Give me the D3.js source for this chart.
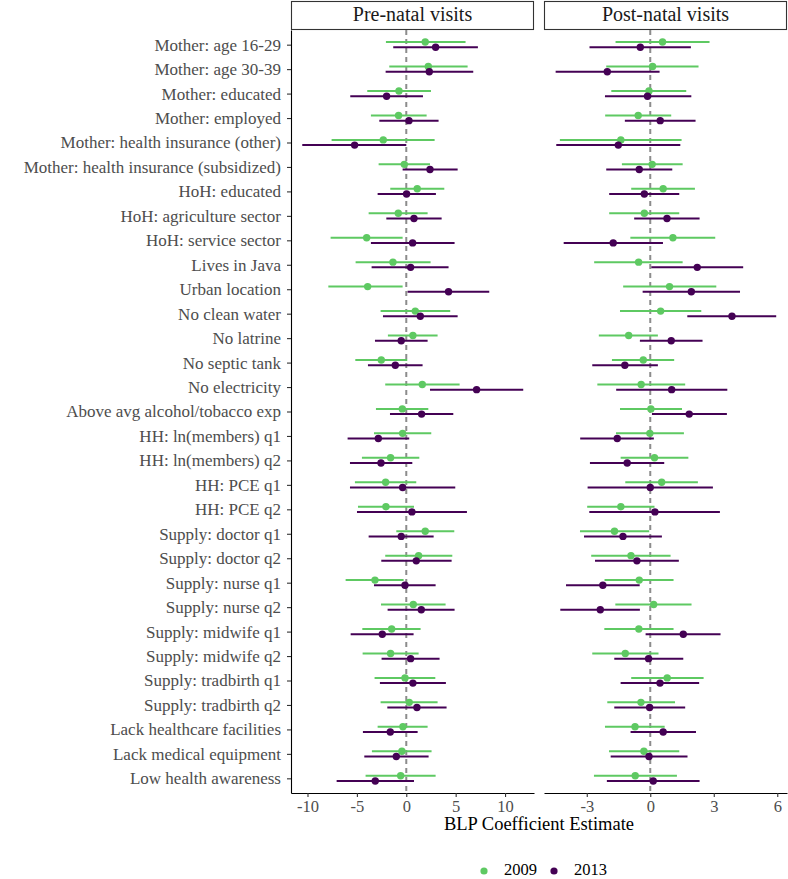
<!DOCTYPE html>
<html lang="en">
<head>
<meta charset="utf-8">
<script src="https://d3js.org/d3.v7.min.js"></script>
<title>BLP coefficient estimates</title>
<style>
  body { margin: 0; background: #fff; }
  text { font-family: "Liberation Serif", "DejaVu Serif", serif; }
</style>
</head>
<body>
<div id="chart"></div>
<script>
// row labels, top to bottom
var labels = [
  "Mother: age 16-29", "Mother: age 30-39", "Mother: educated", "Mother: employed",
  "Mother: health insurance (other)", "Mother: health insurance (subsidized)",
  "HoH: educated", "HoH: agriculture sector", "HoH: service sector", "Lives in Java",
  "Urban location", "No clean water", "No latrine", "No septic tank", "No electricity",
  "Above avg alcohol/tobacco exp", "HH: ln(members) q1", "HH: ln(members) q2",
  "HH: PCE q1", "HH: PCE q2", "Supply: doctor q1", "Supply: doctor q2",
  "Supply: nurse q1", "Supply: nurse q2", "Supply: midwife q1", "Supply: midwife q2",
  "Supply: tradbirth q1", "Supply: tradbirth q2", "Lack healthcare facilities",
  "Lack medical equipment", "Low health awareness"
];
var years = ["2009", "2013"];
var panels = ["Pre-natal visits", "Post-natal visits"];

// Pre-natal, 2009
var pre09Est = [1.92, 2.23, -0.74, -0.78, -2.33, -0.20, 1.11, -0.81, -4.01, -1.35, -3.91, 0.91, 0.67, -2.53, 1.62, -0.40, -0.37, -1.59, -2.09, -2.06, 1.92, 1.25, -3.17, 0.71, -1.48, -1.59, -0.13, 0.30, -0.34, -0.44, -0.57];
var pre09Lo  = [-2.06, -1.72, -3.95, -3.58, -7.56, -2.80, -1.62, -3.81, -7.66, -5.13, -7.89, -2.60, -1.86, -5.16, -2.13, -3.07, -3.27, -4.49, -5.20, -4.89, -1.01, -2.13, -6.14, -2.56, -4.45, -4.42, -3.21, -2.60, -2.90, -3.48, -4.12];
var pre09Hi  = [6.00, 6.21, 2.50, 2.06, 2.87, 2.40, 3.85, 2.16, -0.37, 2.46, -0.37, 4.45, 3.17, 0.10, 5.40, 2.23, 2.53, 1.32, 1.01, 0.78, 4.86, 4.66, -0.27, 3.98, 1.45, 1.25, 2.94, 3.17, 2.16, 2.56, 2.97];
// Pre-natal, 2013
var pre13Est = [2.97, 2.33, -1.99, 0.27, -5.23, 2.40, 0.03, 0.78, 0.64, 0.44, 4.28, 1.42, -0.51, -1.11, 7.12, 1.55, -2.83, -2.56, -0.37, 0.57, -0.51, 1.01, -0.13, 1.52, -2.43, 0.44, 0.67, 1.08, -1.62, -1.01, -3.14];
var pre13Lo  = [-1.32, -2.09, -5.67, -2.73, -10.53, -0.37, -2.90, -2.02, -3.58, -3.51, 0.13, -2.36, -3.17, -3.88, 2.40, -1.65, -5.94, -5.70, -5.70, -4.99, -3.81, -2.53, -3.27, -1.89, -5.63, -2.50, -2.67, -1.92, -4.39, -4.25, -7.05];
var pre13Hi  = [7.25, 6.78, 1.69, 3.27, 0.00, 5.20, 3.00, 3.58, 4.89, 4.28, 8.40, 5.20, 2.16, 1.65, 11.84, 4.76, 0.30, 0.61, 4.96, 6.14, 2.77, 4.59, 2.97, 4.89, 0.74, 3.37, 4.01, 4.08, 1.15, 2.26, 0.78];
// Post-natal, 2009
var post09Est = [0.58, 0.11, -0.06, -0.57, -1.39, 0.09, 0.61, -0.28, 1.07, -0.55, 0.91, 0.49, -1.02, -0.33, -0.43, 0.03, -0.02, 0.20, 0.54, -1.39, -1.69, -0.91, -0.52, 0.16, -0.54, -1.18, 0.80, -0.44, -0.72, -0.30, -0.71];
var post09Lo  = [-1.64, -2.08, -1.84, -2.13, -4.27, -1.34, -0.90, -1.94, -0.94, -2.65, -1.28, -1.43, -2.43, -1.81, -2.50, -1.43, -1.62, -1.40, -1.18, -2.98, -3.32, -2.79, -2.16, -1.65, -2.17, -2.74, -0.90, -2.03, -2.14, -1.95, -2.66];
var post09Hi  = [2.80, 2.28, 1.70, 0.99, 1.48, 1.53, 2.11, 1.37, 3.07, 1.53, 3.12, 2.41, 0.36, 1.13, 1.65, 1.50, 1.59, 1.80, 2.25, 0.20, -0.05, 0.96, 1.10, 1.95, 1.10, 0.39, 2.52, 1.17, 0.68, 1.37, 1.26];
// Post-natal, 2013
var post13Est = [-0.47, -2.03, -0.13, 0.47, -1.51, -0.52, -0.28, 0.79, -1.75, 2.22, 1.94, 3.86, 0.99, -1.20, 1.01, 1.84, -1.56, -1.09, 0.00, 0.22, -1.29, -0.63, -2.24, -2.36, 1.56, -0.08, 0.46, -0.03, 0.61, -0.06, 0.14];
var post13Lo  = [-2.87, -4.47, -2.14, -1.20, -4.44, -2.08, -1.94, -0.76, -4.09, 0.05, -0.36, 1.75, -0.49, -2.74, -1.61, 0.08, -3.31, -2.85, -2.96, -2.88, -3.13, -2.61, -3.98, -4.25, -0.22, -1.70, -1.40, -1.70, -0.93, -1.87, -2.05];
var post13Hi  = [1.92, 0.44, 1.94, 2.14, 1.42, 1.04, 1.37, 2.33, 0.60, 4.39, 4.24, 5.95, 2.47, 0.36, 3.64, 3.62, 0.17, 0.66, 2.96, 3.29, 0.55, 1.35, -0.50, -0.49, 3.32, 1.56, 2.31, 1.65, 2.16, 1.76, 2.33];

var xDomains = [[-11.67, 12.93], [-5.02, 6.46]];
var xTicks = [[-10, -5, 0, 5, 10], [-3, 0, 3, 6]];
var colors = {"2009": "#5ec962", "2013": "#440154"};

var panelData = [
  [{year: "2009", est: pre09Est, lo: pre09Lo, hi: pre09Hi}, {year: "2013", est: pre13Est, lo: pre13Lo, hi: pre13Hi}],
  [{year: "2009", est: post09Est, lo: post09Lo, hi: post09Hi}, {year: "2013", est: post13Est, lo: post13Lo, hi: post13Hi}]
];

var W = 788, H = 879;
var panelLeft = [291, 544], panelW = 243;
var plotTop = 30, plotBottom = 793, stripTop = 1;

var svg = d3.select("#chart").append("svg")
    .attr("width", W).attr("height", H);

var y = d3.scalePoint()
    .domain(labels)
    .range([plotTop, plotBottom])
    .padding(0.6);
var dodge = 2.6;

panels.forEach(function(name, p) {
    var x = d3.scaleLinear().domain(xDomains[p]).range([0, panelW]);
    var g = svg.append("g").attr("transform", "translate(" + panelLeft[p] + ",0)");

    // strip
    g.append("rect")
        .attr("x", 0.5).attr("y", stripTop + 0.5)
        .attr("width", panelW - 1).attr("height", plotTop - stripTop - 1)
        .attr("fill", "#fff").attr("stroke", "#333").attr("stroke-width", 1.1);
    g.append("text")
        .attr("x", panelW / 2).attr("y", (stripTop + plotTop) / 2 + 1)
        .attr("text-anchor", "middle").attr("dominant-baseline", "middle")
        .style("font-size", "20px").style("fill", "#1a1a1a")
        .text(name);

    // zero line
    g.append("line")
        .attr("x1", x(0)).attr("x2", x(0))
        .attr("y1", plotTop).attr("y2", plotBottom)
        .attr("stroke", "#8c8c8c").attr("stroke-width", 2)
        .attr("stroke-dasharray", "5,4");

    // error bars
    panelData[p].forEach(function(s, k) {
        var off = k === 0 ? -dodge : dodge;
        g.append("g").selectAll("line")
            .data(labels)
            .enter().append("line")
            .attr("x1", function(d, i) { return x(s.lo[i]); })
            .attr("x2", function(d, i) { return x(s.hi[i]); })
            .attr("y1", function(d) { return y(d) + off; })
            .attr("y2", function(d) { return y(d) + off; })
            .attr("stroke", colors[s.year]).attr("stroke-width", 2);
    });
    // points
    panelData[p].forEach(function(s, k) {
        var off = k === 0 ? -dodge : dodge;
        g.append("g").selectAll("circle")
            .data(labels)
            .enter().append("circle")
            .attr("cx", function(d, i) { return x(s.est[i]); })
            .attr("cy", function(d) { return y(d) + off; })
            .attr("r", 3.7)
            .attr("fill", colors[s.year]);
    });

    // x axis
    var ax = g.append("g")
        .attr("transform", "translate(0," + plotBottom + ")")
        .call(d3.axisBottom(x).tickValues(xTicks[p]).tickSize(4).tickSizeOuter(0).tickPadding(3));
    ax.select(".domain").attr("stroke", "#000").attr("stroke-width", 1.1);
    ax.selectAll(".tick line").attr("stroke", "#333").attr("stroke-width", 1.1);
    ax.selectAll(".tick text")
        .style("font-family", "Liberation Serif, serif")
        .style("font-size", "16.5px").style("fill", "#4d4d4d")
        .text(function(d) { return d < 0 ? "-" + Math.abs(d) : d; });

    // y axis only on first panel
    if (p === 0) {
        var ay = g.append("g")
            .call(d3.axisLeft(y).tickSize(4).tickSizeOuter(0).tickPadding(6));
        ay.select(".domain").attr("stroke", "#000").attr("stroke-width", 1.1);
        ay.selectAll(".tick line").attr("stroke", "#333").attr("stroke-width", 1.1);
        ay.selectAll(".tick text")
            .style("font-family", "Liberation Serif, serif")
            .style("font-size", "17px").style("fill", "#4d4d4d");
    }
});

// x axis title
svg.append("text")
    .attr("x", (panelLeft[0] + panelLeft[1] + panelW) / 2).attr("y", 830)
    .attr("text-anchor", "middle")
    .style("font-size", "18.5px").style("fill", "#000")
    .text("BLP Coefficient Estimate");

// legend
var legend = svg.append("g").attr("transform", "translate(484,871)");
years.forEach(function(yr, i) {
    var lg = legend.append("g").attr("transform", "translate(" + (i * 70) + ",0)");
    lg.append("circle").attr("r", 3.6).attr("fill", colors[yr]);
    lg.append("text")
        .attr("x", 20).attr("y", 0)
        .attr("dominant-baseline", "middle")
        .style("font-size", "16.5px").style("fill", "#000")
        .text(yr);
});
</script>
</body>
</html>
